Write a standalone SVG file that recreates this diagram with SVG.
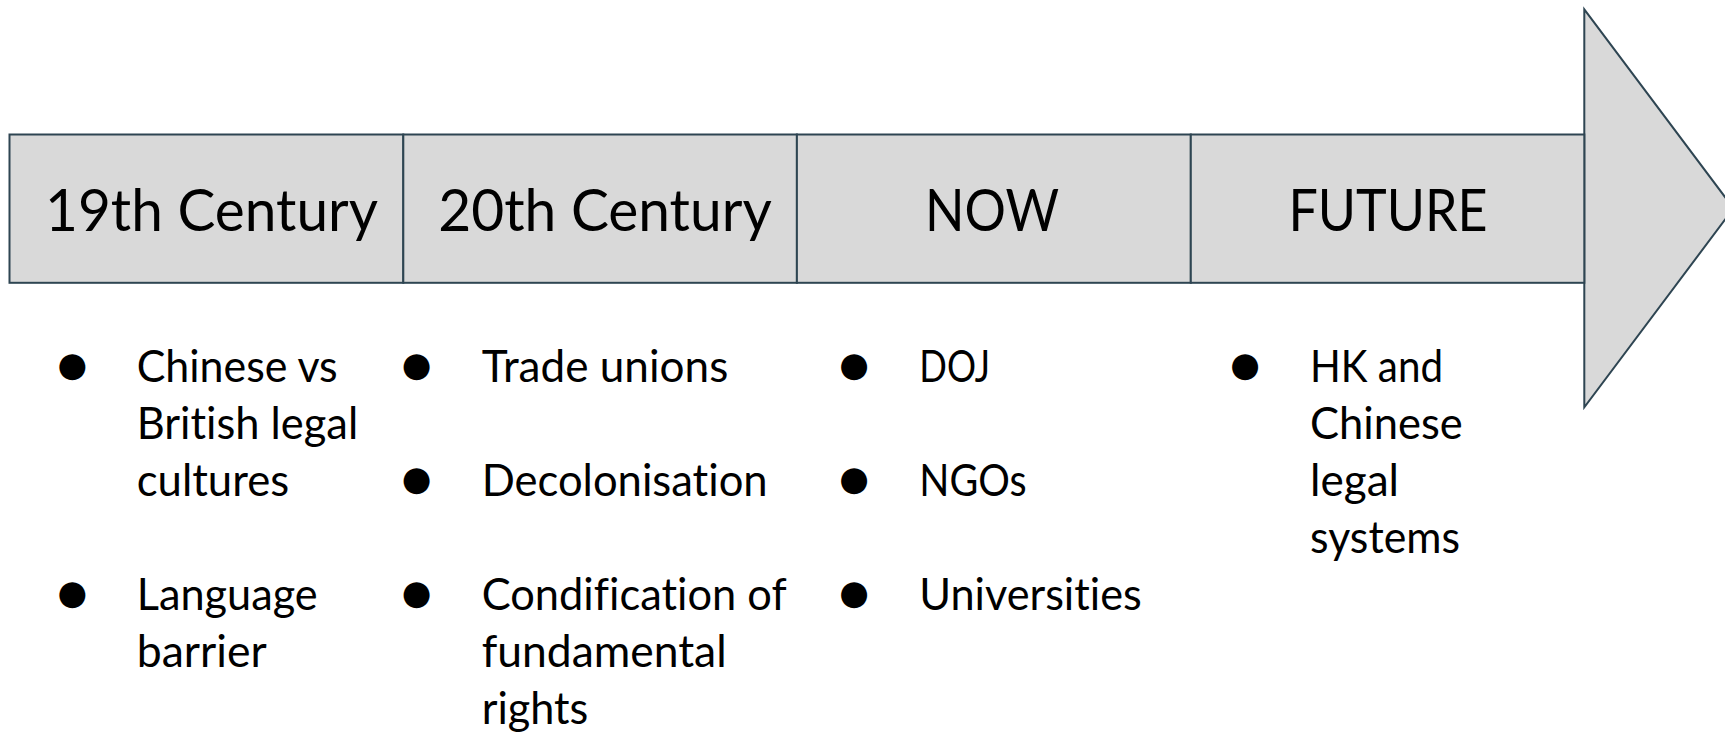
<svg xmlns="http://www.w3.org/2000/svg" width="1725" height="733" viewBox="0 0 1725 733">
  <style>
    .cell { fill: #d9d9d9; stroke: #2e4552; stroke-width: 2; }
    .head { font-family: Lato, "Open Sans", "Liberation Sans", sans-serif; font-size: 59px; fill: #000; text-anchor: middle; font-variant-ligatures: none; font-feature-settings: "liga" 0, "dlig" 0; }
    .item { font-family: Lato, "Open Sans", "Liberation Sans", sans-serif; font-size: 44px; fill: #000; font-variant-ligatures: none; font-feature-settings: "liga" 0, "dlig" 0; }
    .bul { font-family: "DejaVu Sans", sans-serif; font-size: 34px; fill: #000; text-anchor: middle; }
  </style>
  <rect width="1725" height="733" fill="#ffffff"/>

  <g id="arrowhead">
    <polygon class="cell" points="1584.3,9.3 1733.5,208.3 1584.3,407.3"/>
  </g>

  <g id="period-19th">
    <rect class="cell" x="9.5" y="134.5" width="393.8" height="148.3"/>
    <text class="head" x="211.5" y="230.5" textLength="333" lengthAdjust="spacingAndGlyphs">19th Century</text>
  </g>
  <g id="period-20th">
    <rect class="cell" x="403.3" y="134.5" width="393.6" height="148.3"/>
    <text class="head" x="605" y="230.5" textLength="333.4" lengthAdjust="spacingAndGlyphs">20th Century</text>
  </g>
  <g id="period-now">
    <rect class="cell" x="796.9" y="134.5" width="393.9" height="148.3"/>
    <text class="head" x="992" y="230.5" textLength="134" lengthAdjust="spacingAndGlyphs">NOW</text>
  </g>
  <g id="period-future">
    <rect class="cell" x="1190.8" y="134.5" width="393.5" height="148.3"/>
    <text class="head" x="1388" y="230.5" textLength="199" lengthAdjust="spacingAndGlyphs">FUTURE</text>
  </g>

  <g id="list-19th">
    <text class="bul" x="72.3" y="376">●</text>
    <text class="item" x="136.7" y="381.7" textLength="201" lengthAdjust="spacingAndGlyphs">Chinese vs</text>
    <text class="item" x="136.7" y="438.7" textLength="221.5" lengthAdjust="spacingAndGlyphs">British legal</text>
    <text class="item" x="136.7" y="495.7" textLength="152.5" lengthAdjust="spacingAndGlyphs">cultures</text>
    <text class="bul" x="72.3" y="604.4">●</text>
    <text class="item" x="136.7" y="609.8" textLength="181" lengthAdjust="spacingAndGlyphs">Language</text>
    <text class="item" x="136.7" y="666.8" textLength="130" lengthAdjust="spacingAndGlyphs">barrier</text>
  </g>

  <g id="list-20th">
    <text class="bul" x="416.7" y="376">●</text>
    <text class="item" x="481.7" y="381.7" textLength="246.6" lengthAdjust="spacingAndGlyphs">Trade unions</text>
    <text class="bul" x="416.7" y="490">●</text>
    <text class="item" x="481.7" y="495.7" textLength="286" lengthAdjust="spacingAndGlyphs">Decolonisation</text>
    <text class="bul" x="416.7" y="604.4">●</text>
    <text class="item" x="481.7" y="609.8" textLength="305" lengthAdjust="spacingAndGlyphs">Condification of</text>
    <text class="item" x="481.7" y="666.8" textLength="245" lengthAdjust="spacingAndGlyphs">fundamental</text>
    <text class="item" x="481.7" y="723.8" textLength="106.6" lengthAdjust="spacingAndGlyphs">rights</text>
  </g>

  <g id="list-now">
    <text class="bul" x="854" y="376">●</text>
    <text class="item" x="919.3" y="381.7" textLength="70.7" lengthAdjust="spacingAndGlyphs">DOJ</text>
    <text class="bul" x="854" y="490">●</text>
    <text class="item" x="919.3" y="495.7" textLength="107.4" lengthAdjust="spacingAndGlyphs">NGOs</text>
    <text class="bul" x="854" y="604.4">●</text>
    <text class="item" x="919.3" y="609.8" textLength="222.4" lengthAdjust="spacingAndGlyphs">Universities</text>
  </g>

  <g id="list-future">
    <text class="bul" x="1245" y="376">●</text>
    <text class="item" x="1310" y="381.7" textLength="133" lengthAdjust="spacingAndGlyphs">HK and</text>
    <text class="item" x="1310" y="438.7" textLength="152.7" lengthAdjust="spacingAndGlyphs">Chinese</text>
    <text class="item" x="1310" y="495.7" textLength="89" lengthAdjust="spacingAndGlyphs">legal</text>
    <text class="item" x="1310" y="552.7" textLength="150" lengthAdjust="spacingAndGlyphs">systems</text>
  </g>

  <g id="connectors"></g>
</svg>
